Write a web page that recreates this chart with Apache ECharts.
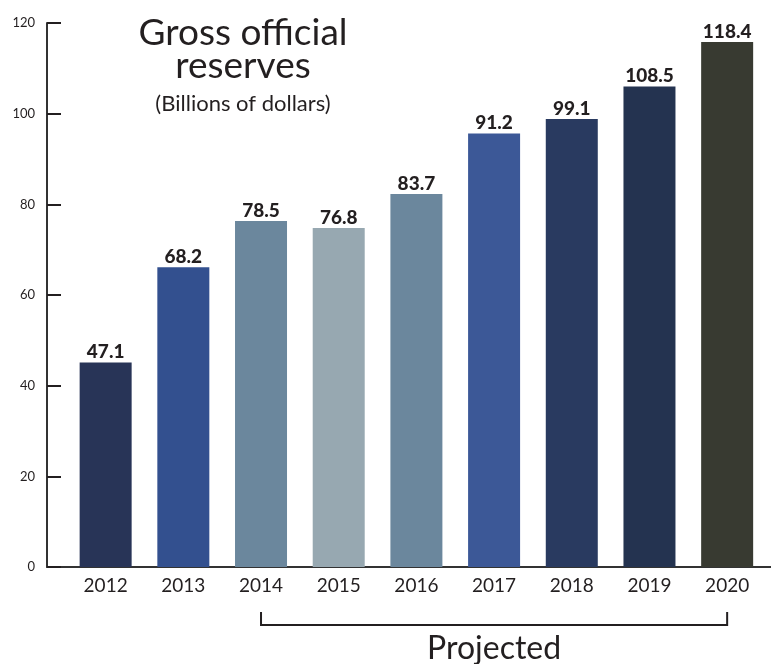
<!DOCTYPE html>
<html>
<head>
<meta charset="utf-8">
<script src="https://cdn.jsdelivr.net/npm/echarts@6/dist/echarts.min.js"></script>
<style>
html,body{margin:0;padding:0;background:#fff;}
#c{width:771px;height:664px;}
</style>
</head>
<body>
<div id="c"></div>
<script>
const years = ['2012','2013','2014','2015','2016','2017','2018','2019','2020'];
// bar heights as drawn against the axis
const barHeights = [45.1, 66.1, 76.3, 74.8, 82.3, 95.6, 98.8, 106.0, 115.8];
// value labels printed above the bars
const valueLabels = ['47.1','68.2','78.5','76.8','83.7','91.2','99.1','108.5','118.4'];
const barColors = ['#283457','#33508f','#6b879d','#97a8b1','#6b879d','#3c5897','#293a60','#243350','#383a31'];
const yTicks = [0, 20, 40, 60, 80, 100, 120];
const titleLines = ['Gross official', 'reserves'];
const subtitle = '(Billions of dollars)';
const projectedLabel = 'Projected';
const projectedFrom = '2014', projectedTo = '2020';

const FONT = 'Lato, "Noto Sans", sans-serif';
const INK = '#231f20';
const chart = echarts.init(document.getElementById('c'));
const gridTop = 23, gridBottom = 97;

chart.setOption({
  animation: false,
  backgroundColor: '#ffffff',
  textStyle: { fontFamily: FONT },
  title: [
    { text: titleLines.join('\n'), left: 238, top: 12, textAlign: 'center',
      textStyle: { fontFamily: FONT, fontSize: 37, fontWeight: 'normal', color: INK, lineHeight: 33 } },
    { text: subtitle, left: 238, top: 88, textAlign: 'center',
      textStyle: { fontFamily: FONT, fontSize: 22, fontWeight: 'normal', color: INK } }
  ],
  grid: [
    { left: 47, right: 0, top: gridTop, bottom: gridBottom },
    { left: 66.8, right: 5, top: gridTop, bottom: gridBottom }
  ],
  xAxis: [
    { gridIndex: 0, type: 'value', min: 0, max: 1, splitLine: { show: false },
      axisLabel: { show: false }, axisTick: { show: false },
      axisLine: { show: true, lineStyle: { color: '#333', width: 2 } } },
    { gridIndex: 1, type: 'category', data: years,
      axisLine: { show: false }, axisTick: { show: false },
      axisLabel: { color: INK, fontSize: 19, fontFamily: FONT, margin: 9 } }
  ],
  yAxis: [
    { gridIndex: 0, type: 'value', min: 0, max: 120, interval: 20,
      splitLine: { show: false },
      axisLine: { show: true, lineStyle: { color: '#333', width: 2 } },
      axisTick: { show: true, inside: true, length: 14, lineStyle: { color: INK, width: 2 } },
      axisLabel: { color: INK, fontSize: 13, fontFamily: FONT, margin: 12,
        customValues: yTicks } },
    { gridIndex: 1, type: 'value', min: 0, max: 120, interval: 20, show: false }
  ],
  series: [{
    type: 'bar',
    xAxisIndex: 1, yAxisIndex: 1,
    barWidth: 52,
    data: barHeights.map((v, i) => ({ value: v, itemStyle: { color: barColors[i] } })),
    label: {
      show: true, position: 'top', distance: 1,
      formatter: p => valueLabels[p.dataIndex],
      color: INK, fontSize: 19, fontWeight: 900, fontFamily: FONT
    }
  }]
});

function drawBracket() {
  const x1 = chart.convertToPixel({ xAxisIndex: 1 }, projectedFrom);
  const x2 = chart.convertToPixel({ xAxisIndex: 1 }, projectedTo);
  const y0 = chart.convertToPixel({ yAxisIndex: 0 }, 0);
  const yl = y0 + 58, yt = y0 + 45;
  chart.setOption({
    graphic: [
      { type: 'polyline', shape: { points: [[x1, yt], [x1, yl], [x2, yl], [x2, yt]] },
        style: { stroke: INK, lineWidth: 2, fill: null } },
      { type: 'text', x: (x1 + x2) / 2, y: yl + 8,
        style: { text: projectedLabel, fill: INK, font: '32px ' + FONT, align: 'center', verticalAlign: 'top' } }
    ]
  });
}
drawBracket();
</script>
</body>
</html>
